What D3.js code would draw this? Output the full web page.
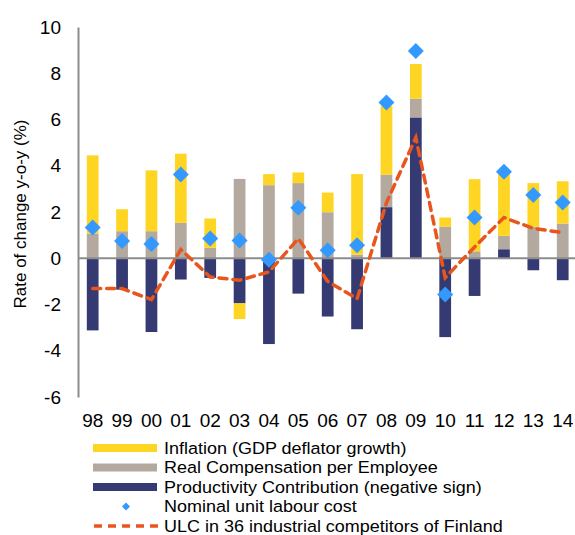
<!DOCTYPE html>
<html>
<head>
<meta charset="utf-8">
<script src="https://cdn.jsdelivr.net/npm/d3@7"></script>
<style>
  body { margin: 0; background: #fff; }
  svg text { font-family: "Liberation Sans", Arial, sans-serif; fill: #000; }
</style>
</head>
<body>
<div id="chart"></div>
<script>
var years = ["98","99","00","01","02","03","04","05","06","07","08","09","10","11","12","13","14"];
// stacked components
var productivity = [-3.12,-1.36,-3.19,-0.92,-0.85,-1.95,-3.71,-1.53,-2.52,-3.07,2.21,6.09,-3.41,-1.63,0.39,-0.52,-0.95];
var realComp     = [1.07,1.17,1.17,1.53,0.45,3.43,3.16,3.25,1.99,0.15,1.40,0.81,1.36,0.30,0.58,1.36,1.50];
var inflation    = [3.38,0.95,2.63,2.99,1.27,-0.68,0.48,0.46,0.85,3.49,2.97,1.50,0.40,3.12,2.74,1.89,1.83];
var nominalUlc   = [1.33,0.75,0.62,3.62,0.85,0.77,-0.06,2.18,0.35,0.56,6.74,8.96,-1.57,1.76,3.74,2.73,2.41];
var competitors  = [-1.31,-1.31,-1.79,0.38,-0.81,-0.95,-0.59,0.85,-1.0,-1.75,2.4,5.22,-0.84,0.49,1.76,1.29,1.11];
var yTicks = [-6,-4,-2,0,2,4,6,8,10];

var seriesNames = ["Inflation (GDP deflator growth)", "Real Compensation per Employee",
  "Productivity Contribution (negative sign)", "Nominal unit labour cost",
  "ULC in 36 industrial competitors of Finland"];
var colors = {infl: "#FFD524", comp: "#B3A99F", prod: "#353B72", ulc: "#3399FF", comp36: "#E8561E"};

var width = 575, height = 535;
var svg = d3.select("#chart").append("svg")
    .attr("width", width)
    .attr("height", height);

var x = d3.scaleBand()
    .domain(years)
    .range([78, 577.4])
    .paddingInner(0.6)
    .paddingOuter(0.3);

var y = d3.scaleLinear()
    .domain([-6, 10])
    .range([397, 27]);

// build table for stack: order productivity, real comp, inflation
var table = years.map(function(yr, i) {
    return {year: yr, prod: productivity[i], comp: realComp[i], infl: inflation[i]};
});
var stack = d3.stack()
    .keys(["prod", "comp", "infl"])
    .offset(d3.stackOffsetDiverging);
var layers = stack(table);

svg.append("g").selectAll("g")
    .data(layers)
    .join("g")
    .attr("fill", function(d) { return colors[d.key]; })
  .selectAll("rect")
    .data(function(d) { return d; })
    .join("rect")
    .attr("x", function(d) { return x(d.data.year); })
    .attr("width", x.bandwidth())
    .attr("y", function(d) { return y(Math.max(d[0], d[1])); })
    .attr("height", function(d) { return Math.abs(y(d[0]) - y(d[1])); });

// y axis (plain hyphen for negatives, like the original)
var yAxis = d3.axisLeft(y).tickValues(yTicks).tickSize(0).tickPadding(17)
    .tickFormat(function(d) { return String(d); });
var gy = svg.append("g")
    .attr("transform", "translate(78,0)")
    .call(yAxis);
gy.select(".domain").attr("stroke", "#8c8c8c").attr("stroke-width", 2);
gy.selectAll("text").attr("font-size", 19).attr("fill", "#000");

// zero line
svg.append("line")
    .attr("x1", 78).attr("x2", width)
    .attr("y1", y(0)).attr("y2", y(0))
    .attr("stroke", "#8c8c8c")
    .attr("stroke-width", 2);

// x labels
var xAxis = d3.axisBottom(x).tickSize(0).tickPadding(0);
var gx = svg.append("g")
    .attr("transform", "translate(0,413.5)")
    .call(xAxis);
gx.select(".domain").remove();
gx.selectAll("text").attr("font-size", 19).attr("fill", "#000");

// y title
svg.append("text")
    .attr("transform", "translate(26,214) rotate(-90)")
    .attr("text-anchor", "middle")
    .attr("font-size", 17)
    .text("Rate of change y-o-y (%)");

// competitors line
var line = d3.line()
    .x(function(d, i) { return x(years[i]) + x.bandwidth() / 2; })
    .y(function(d) { return y(d); });
svg.append("path")
    .datum(competitors)
    .attr("fill", "none")
    .attr("stroke", colors.comp36)
    .attr("stroke-width", 3.5)
    .attr("stroke-dasharray", "8,6")
    .attr("stroke-linecap", "round")
    .attr("d", line);

// nominal ULC diamonds
var diamond = d3.symbol().type(d3.symbolSquare).size(128);
svg.append("g").selectAll("path")
    .data(nominalUlc)
    .join("path")
    .attr("d", diamond)
    .attr("fill", colors.ulc)
    .attr("transform", function(d, i) {
        return "translate(" + (x(years[i]) + x.bandwidth() / 2) + "," + y(d) + ") rotate(45)";
    });

// legend
var legY = [448, 467.5, 487, 506.5, 526];
var leg = svg.append("g");
[colors.infl, colors.comp, colors.prod].forEach(function(c, i) {
    leg.append("rect")
        .attr("x", 93).attr("y", legY[i] - 4)
        .attr("width", 64).attr("height", 8)
        .attr("fill", c);
});
leg.append("path")
    .attr("d", d3.symbol().type(d3.symbolSquare).size(32))
    .attr("fill", colors.ulc)
    .attr("transform", "translate(126," + legY[3] + ") rotate(45)");
leg.append("line")
    .attr("x1", 94).attr("x2", 158)
    .attr("y1", legY[4]).attr("y2", legY[4])
    .attr("stroke", colors.comp36)
    .attr("stroke-width", 3.5)
    .attr("stroke-dasharray", "8,6");
// original legend text is a little wide for its height
leg.selectAll("text")
    .data(seriesNames)
    .join("text")
    .attr("transform", function(d, i) { return "translate(164," + legY[i] + ") scale(1.09,1)"; })
    .attr("dy", "0.35em")
    .attr("font-size", 16.5)
    .text(function(d) { return d; });
</script>
</body>
</html>
